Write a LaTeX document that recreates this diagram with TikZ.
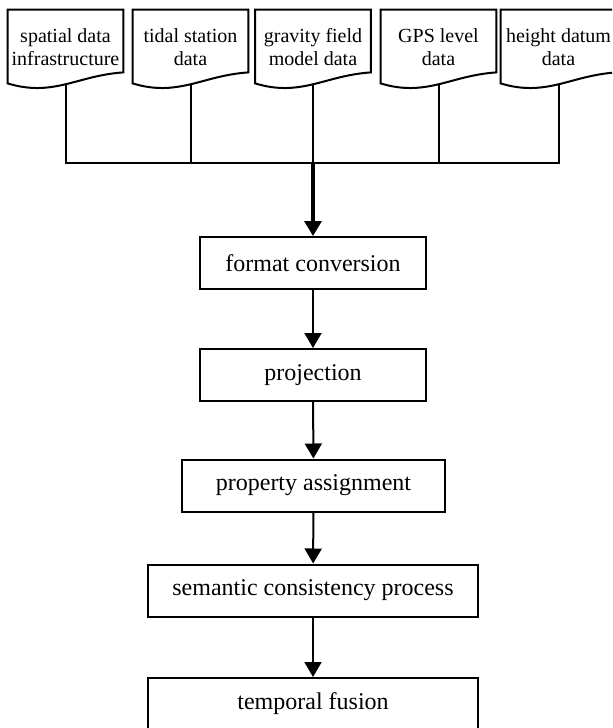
\documentclass[tikz,border=0pt]{standalone}
\usepackage{fontspec}
\setmainfont{Liberation Serif}
\usepackage{tikz}
\usetikzlibrary{positioning}
\usetikzlibrary{calc}
\usetikzlibrary{arrows.meta}

\begin{document}
\begin{tikzpicture}
  [
    x=0.5pt, y=-0.5pt,
    datadoc/.style={
       minimum width =57.5pt,
       minimum height=37pt,
       inner sep=0pt,
       align=center,
       font=\fontsize{10}{11.5}\selectfont
    },
    stepbox/.style={
       draw=black,
       line width=1pt,
       minimum width =113pt,
       minimum height=26pt,
       font=\fontsize{12}{14}\selectfont
    },
    wire/.style={
       draw=black,
       line width=1pt
    },
    flow/.style={
       draw=black,
       line width=1pt,
       -{Triangle[length=7.5pt,width=8.5pt]}
    }
  ]
  \useasboundingbox (0,0) rectangle (612,728);
  \clip (0,0) rectangle (612,728);

  \node (sdi)   at ( 65.5,47) [datadoc] {spatial data\\infrastructure};
  \node (tide)  at (190.5,47) [datadoc] {tidal station\\data};
  \node (grav)  at (313.0,47) [datadoc] {gravity field\\model data};
  \node (gps)   at (438.5,47) [datadoc] {GPS level\\data};
  \node (datum) at (558.5,47) [datadoc] {height datum\\data};

  % document outlines with wavy bottom
  \foreach \d in {sdi,tide,grav,gps,datum}
    \draw [wire]
      (\d.north west) -- (\d.north east) -- ($(\d.south east)+(0,-12)$)
      .. controls ($(\d.south east)+(-46,-9)$) and ($(\d.south west)+(46,13)$)
      .. ($(\d.south west)+(0,-1)$) -- cycle;

  \node (fmt)  at (313.0,263.0) [stepbox]                      {format conversion};
  \node (proj) at (313.0,375.0) [stepbox]                      {projection};
  \node (prop) at (313.5,485.5) [stepbox, minimum width=131.5pt] {property assignment};
  \node (sem)  at (313.0,590.5) [stepbox, minimum width=165pt]   {semantic consistency process};
  \node (temp) at (313.0,704.0) [stepbox, minimum width=165pt]   {temporal fusion};

  \coordinate (bus) at ($(grav.south)+(0,79)$);

  \draw [wire] (sdi.south) |- (bus) -| (datum.south);
  \draw [wire] (tide.south) -- (tide.south |- bus);
  \draw [wire] (gps.south) -- (gps.south |- bus);
  \draw [wire] (grav.south) -- (bus);

  \draw [flow, line width=1.6pt] (bus) -- (fmt);
  \draw [flow] (fmt)  -- (proj);
  \draw [flow] (proj) -- (prop);
  \draw [flow] (prop) -- (sem);
  \draw [flow] (sem)  -- (temp);
\end{tikzpicture}
\end{document}
